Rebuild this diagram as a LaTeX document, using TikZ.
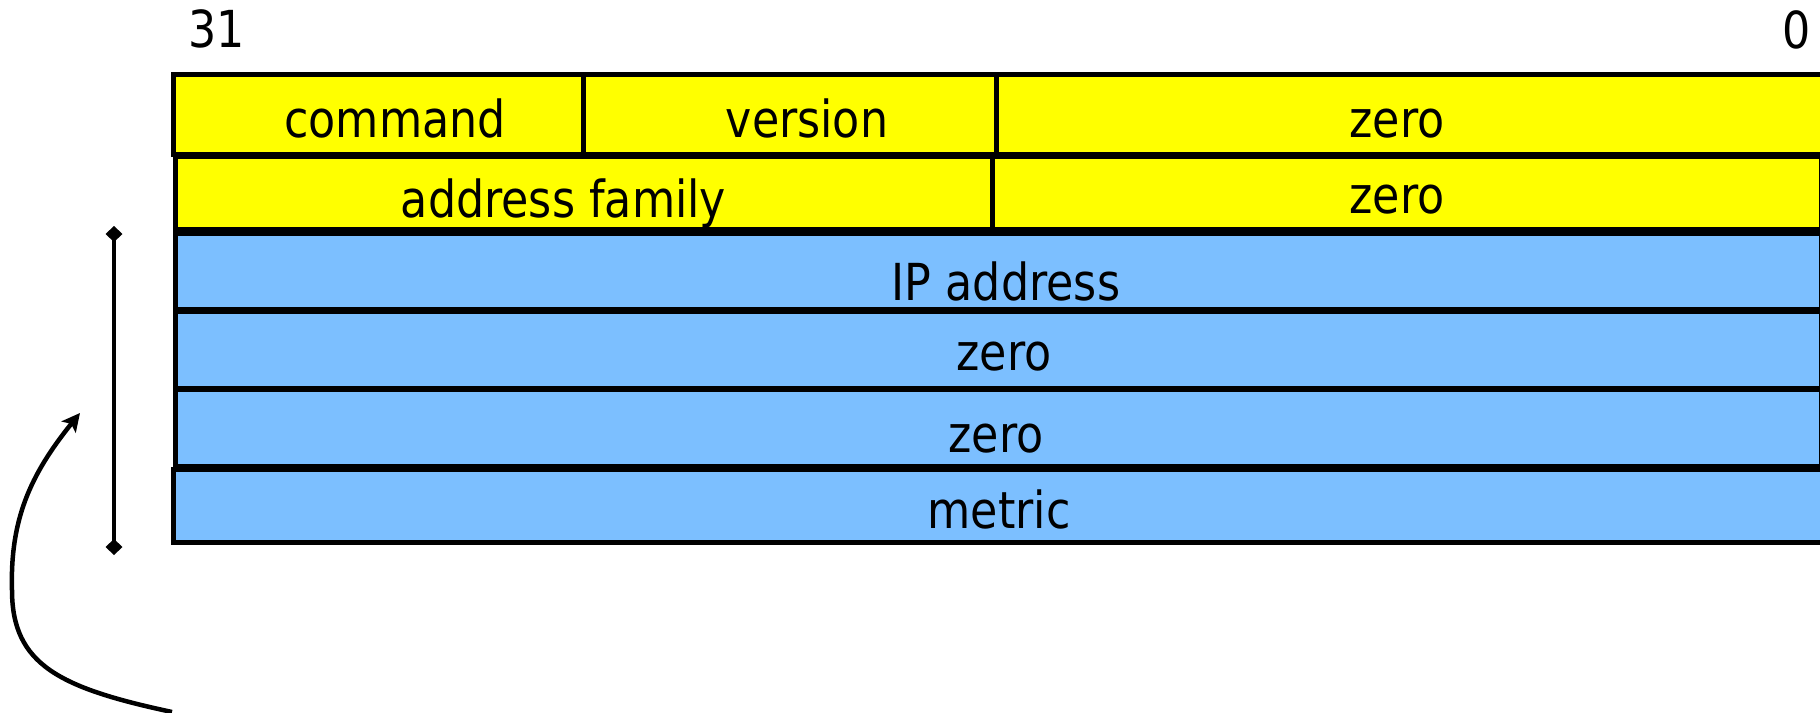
\documentclass[tikz,border=0pt]{standalone}
\usepackage{fontspec}
\setmainfont{DejaVu Sans}[FakeStretch=0.87]
\usetikzlibrary{arrows.meta}
\definecolor{cellyellow}{RGB}{255,255,0}
\definecolor{cellblue}{RGB}{124,191,255}
\begin{document}
\begin{tikzpicture}[x=1pt,y=-1pt,
  cellbox/.style={draw=black,line width=5pt,rectangle,inner sep=0pt,outer sep=0pt},
  ycell/.style={cellbox,fill=cellyellow},
  bcell/.style={cellbox,fill=cellblue},
  lbl/.style={anchor=base,inner sep=0pt,font=\fontsize{51}{60}\selectfont},
  conn/.style={line width=4.5pt,black}
]
\useasboundingbox (0,0) rectangle (1820,712);
% bit labels
\node[lbl] (b31) at (217,47) {31};
\node[lbl] (b0) at (1797,48) {0};
% row 1
\node[ycell,minimum width=410pt,minimum height=80pt] (cmd) at (378.5,114.5) {};
\node[ycell,minimum width=412.5pt,minimum height=80pt] (ver) at (789.75,114.5) {};
\node[ycell,minimum width=839pt,minimum height=80pt] (zA) at (1415.5,114.5) {};
% row 2
\node[ycell,minimum width=817pt,minimum height=73pt] (af) at (584,192.5) {};
\node[ycell,minimum width=828.5pt,minimum height=73pt] (zB) at (1406.75,192.5) {};
% rows 3-5
\node[bcell,minimum width=1645.5pt,minimum height=76pt] (ip) at (998.25,271) {};
\node[bcell,minimum width=1645.5pt,minimum height=77.5pt] (zC) at (998.25,349.75) {};
\node[bcell,minimum width=1645.5pt,minimum height=76.5pt] (zD) at (998.25,427.75) {};
% metric
\node[bcell,minimum width=1661.5pt,minimum height=73.5pt] (met) at (1004.25,505.75) {};
% texts
\node[lbl] (tcmd) at (395,137) {command};
\node[lbl] (tver) at (807,137) {version};
\node[lbl] (tzA) at (1397,137) {zero};
\node[lbl] (taf) at (563.5,217) {address family};
\node[lbl] (tzB) at (1397,213) {zero};
\node[lbl] (tip) at (1006,300) {IP address};
\node[lbl] (tzC) at (1004,370) {zero};
\node[lbl] (tzD) at (996,452) {zero};
\node[lbl] (tmet) at (999,528) {metric};
% span bar
\coordinate (bartop) at (114,226);
\coordinate (barbot) at (114,555);
\draw[conn,{Diamond[length=16pt,width=17pt]}-{Diamond[length=16pt,width=17pt]}] (bartop) -- (barbot);
% curved arrow
\coordinate (cstart) at (172,712);
\coordinate (cmid) at (12,590);
\coordinate (ctip) at (80,413);
\draw[conn,-{Stealth[length=18pt,width=18pt,inset=4pt]}] (cstart) .. controls (60,688) and (12,665) .. (cmid) .. controls (10,520) and (30,475) .. (ctip);
\end{tikzpicture}
\end{document}
